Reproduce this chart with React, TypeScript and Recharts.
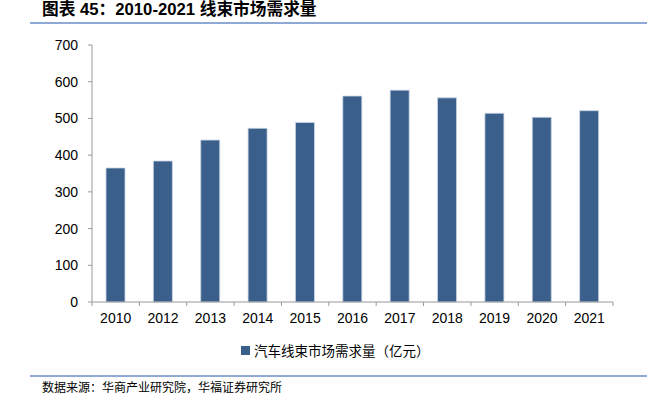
import { BarChart, Bar, XAxis, YAxis } from 'recharts'

const years = ['2010', '2012', '2013', '2014', '2015', '2016', '2017', '2018', '2019', '2020', '2021']
const demand = [365, 384, 441, 473, 489, 561, 577, 556, 514, 503, 521]
const yTicks = [0, 100, 200, 300, 400, 500, 600, 700]

const seriesName = '汽车线束市场需求量（亿元）'
const title = '图表 45：2010-2021 线束市场需求量'
const source = '数据来源：华商产业研究院，华福证券研究所'

const data = years.map((year, i) => ({ year, demand: demand[i] }))

const barColor = '#3A5F8B'
const ruleColor = '#8EA9D3'
const axisColor = '#999999'
const latin = '"Liberation Sans", Arial, sans-serif'
const cjk = '"Noto Sans CJK SC", sans-serif'

function YearTick(props: any) {
  const { x, y, payload, index } = props
  const half = payload?.offset ?? 0
  const axisY = y - 11
  return (
    <g>
      <line x1={x - half} x2={x - half} y1={axisY} y2={axisY + 4} stroke={axisColor} />
      {index === years.length - 1 && (
        <line x1={x + half} x2={x + half} y1={axisY} y2={axisY + 4} stroke={axisColor} />
      )}
      <text x={x} y={y} dy="0.71em" textAnchor="middle" fontSize={14} fontFamily={latin} fill="#000">
        {payload.value}
      </text>
    </g>
  )
}

export default function App() {
  return (
    <div style={{ position: 'absolute', left: 0, top: 0, width: 662, height: 402, background: '#fff' }}>
      <div
        style={{
          position: 'absolute',
          left: 42,
          top: 0,
          fontSize: 16.7,
          lineHeight: '19px',
          fontWeight: 'bold',
          fontFamily: `${latin.split(',')[0]}, ${cjk}`,
          color: '#000',
          whiteSpace: 'nowrap',
        }}
      >
        {title}
      </div>
      <div style={{ position: 'absolute', left: 30, top: 22, width: 617, height: 2, background: ruleColor }} />

      <div style={{ position: 'absolute', left: 0, top: 0 }}>
        <BarChart width={662} height={340} data={data} margin={{ top: 45, right: 49, left: 32, bottom: 8 }}>
          <XAxis
            dataKey="year"
            height={30}
            stroke={axisColor}
            tickLine={false}
            tickSize={4}
            tickMargin={7}
            tick={<YearTick />}
            interval={0}
          />
          <YAxis
            width={60}
            domain={[0, 700]}
            ticks={yTicks}
            stroke={axisColor}
            tickSize={4}
            tickMargin={10}
            tick={{ fontSize: 14, fontFamily: latin, fill: '#000' }}
          />
          <Bar
            dataKey="demand"
            name={seriesName}
            fill={barColor}
            stroke="#c8d4e3"
            strokeWidth={0.8}
            barSize={19}
            isAnimationActive={false}
          />
        </BarChart>
      </div>

      <div
        style={{
          position: 'absolute',
          left: 241,
          top: 341,
          display: 'flex',
          alignItems: 'center',
          fontSize: 13.5,
          lineHeight: '18px',
          fontFamily: cjk,
          color: '#000',
          whiteSpace: 'nowrap',
        }}
      >
        <span style={{ width: 9, height: 9, background: barColor, marginRight: 4, display: 'inline-block' }} />
        {seriesName}
      </div>

      <div style={{ position: 'absolute', left: 30, top: 375, width: 617, height: 2, background: ruleColor }} />
      <div
        style={{
          position: 'absolute',
          left: 42,
          top: 379,
          fontSize: 12,
          lineHeight: '15px',
          fontFamily: cjk,
          color: '#000',
          whiteSpace: 'nowrap',
        }}
      >
        {source}
      </div>
    </div>
  )
}
